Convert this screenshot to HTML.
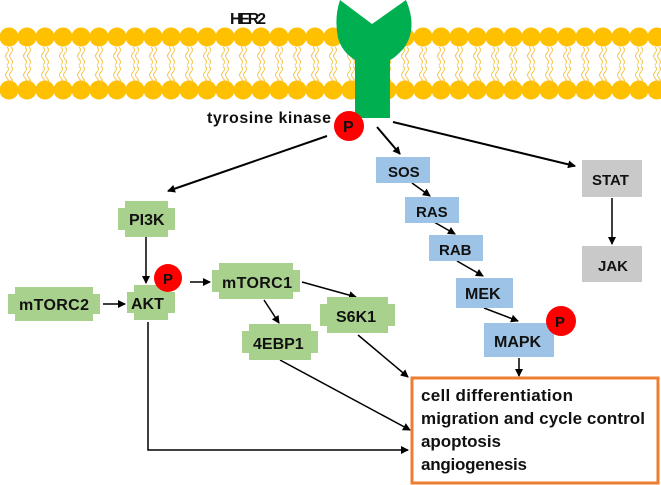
<!DOCTYPE html>
<html><head><meta charset="utf-8"><style>
html,body{margin:0;padding:0;background:#fff}
svg{display:block}
text{font-family:"Liberation Sans",sans-serif;font-weight:bold;fill:#111}
</style></head><body>
<svg width="661" height="485" viewBox="0 0 661 485" xmlns="http://www.w3.org/2000/svg">
<defs>
<marker id="a" markerWidth="8" markerHeight="8" refX="7" refY="4" orient="auto" markerUnits="userSpaceOnUse"><path d="M0,0 L8,4 L0,8 Z" fill="#000"/></marker>
<g id="tail"><path d="M-2,0 q3,3 0,6 q-3,3 0,6 q3,3 0,6 M2,0 q3,3 0,6 q-3,3 0,6 q3,3 0,6" stroke="#f5c242" stroke-width="0.9" fill="none"/></g>
</defs>
<!-- membrane -->
<g id="mem">
<script>/* none */</script>
</g>
<g fill="#ffc000">
<!-- heads generated inline -->
</g>
<g id="heads"></g>
<!-- HER2 -->
<path d="M340,0 L372,24 L406,0 Q418,28 404,48 Q395,58 390,60 L355,60 Q342,52 338,38 Q334,18 340,0 Z" fill="#00b050"/>
<rect x="355" y="50" width="35" height="68" fill="#00b050"/>
<text x="230" y="24" font-size="16" textLength="36">HER2</text>
<text x="207" y="123" font-size="16" textLength="124">tyrosine kinase</text>
<circle cx="349" cy="126" r="15" fill="#f00"/><text x="343" y="132" font-size="16">P</text>
<!-- arrows -->
<g stroke="#000" stroke-width="2" fill="none" marker-end="url(#a)">
<line x1="327" y1="136" x2="168" y2="191"/>
<line x1="377" y1="127" x2="400" y2="154"/>
<line x1="393" y1="122" x2="575" y2="166"/>
</g>
<g stroke="#000" stroke-width="1.5" fill="none" marker-end="url(#a)">
<line x1="146" y1="237" x2="146" y2="283"/>
<line x1="103" y1="304" x2="125" y2="304"/>
<line x1="190" y1="282" x2="210" y2="282"/>
<line x1="302" y1="282" x2="356" y2="297"/>
<line x1="264" y1="300" x2="279" y2="323"/>
<line x1="358" y1="335" x2="408" y2="377"/>
<line x1="280" y1="360" x2="410" y2="430"/>
<polyline points="148,322 148,450 408,450"/>
<line x1="519" y1="358" x2="519" y2="376"/>
<line x1="412" y1="183" x2="430" y2="196"/>
<line x1="434" y1="222" x2="455" y2="234"/>
<line x1="457" y1="261" x2="483" y2="276"/>
<line x1="484" y1="308" x2="518" y2="321"/>
<line x1="612" y1="198" x2="612" y2="244"/>
</g>
<!-- green notched boxes -->
<g fill="#a9d18e">
<path d="M125,201 H168 V208 H175 V230 H168 V237 H125 V230 H118 V208 H125 Z"/>
<path d="M134,285 H168 V292 H175 V313 H168 V320 H134 V313 H127 V292 H134 Z"/>
<path d="M15,287 H93 V294 H100 V314 H93 V321 H15 V314 H8 V294 H15 Z"/>
<path d="M219,263 H293 V270 H300 V292 H293 V299 H219 V292 H212 V270 H219 Z"/>
<path d="M327,297 H388 V304 H395 V326 H388 V333 H327 V326 H320 V304 H327 Z"/>
<path d="M249,324 H311 V331 H318 V353 H311 V360 H249 V353 H242 V331 H249 Z"/>
</g>
<text x="129" y="225" font-size="16">PI3K</text>
<text x="131" y="309" font-size="16">AKT</text>
<text x="19" y="310" font-size="16" textLength="70">mTORC2</text>
<text x="222" y="288" font-size="16" textLength="70">mTORC1</text>
<text x="336" y="322" font-size="16">S6K1</text>
<text x="253" y="349" font-size="16">4EBP1</text>
<circle cx="168" cy="278" r="14" fill="#f00"/><text x="163" y="284" font-size="15">P</text>
<!-- blue -->
<g fill="#9dc3e6">
<rect x="376" y="157" width="54" height="26"/>
<rect x="405" y="197" width="54" height="26"/>
<rect x="429" y="235" width="54" height="26"/>
<rect x="456" y="278" width="57" height="30"/>
<rect x="484" y="323" width="70" height="34"/>
</g>
<text x="388" y="177" font-size="15">SOS</text>
<text x="416" y="217" font-size="15">RAS</text>
<text x="439" y="255" font-size="15">RAB</text>
<text x="465" y="299" font-size="16">MEK</text>
<text x="494" y="347" font-size="16">MAPK</text>
<circle cx="561" cy="321" r="15" fill="#f00"/><text x="555" y="327" font-size="15">P</text>
<!-- grey -->
<rect x="582" y="160" width="60" height="37" fill="#c9c9c9"/>
<rect x="582" y="246" width="60" height="36" fill="#c9c9c9"/>
<text x="592" y="185" font-size="15">STAT</text>
<text x="598" y="271" font-size="15">JAK</text>
<!-- result box -->
<rect x="412" y="378" width="246" height="105" fill="#fff" stroke="#ed7d31" stroke-width="3"/>
<text x="421" y="401" font-size="17" textLength="152">cell differentiation</text>
<text x="421" y="424" font-size="17" textLength="224">migration and cycle control</text>
<text x="421" y="447" font-size="17" textLength="80">apoptosis</text>
<text x="421" y="470" font-size="17" textLength="106">angiogenesis</text>
</svg>
<script>
(function(){
var ns="http://www.w3.org/2000/svg",svg=document.querySelector("svg");
var g=document.createElementNS(ns,"g");
var her=svg.querySelector('path[fill="#00b050"]');
for(var x=9;x<670;x+=18){
 [[37],[90]].forEach(function(p){var c=document.createElementNS(ns,"circle");c.setAttribute("cx",x);c.setAttribute("cy",p[0]);c.setAttribute("r",9.5);c.setAttribute("fill","#ffc000");g.appendChild(c);});
 [47,66].forEach(function(y){var u=document.createElementNS(ns,"use");u.setAttribute("href","#tail");u.setAttribute("transform","translate("+x+","+y+")");g.appendChild(u);});
}
svg.insertBefore(g,her);
})();
</script>
</body></html>
